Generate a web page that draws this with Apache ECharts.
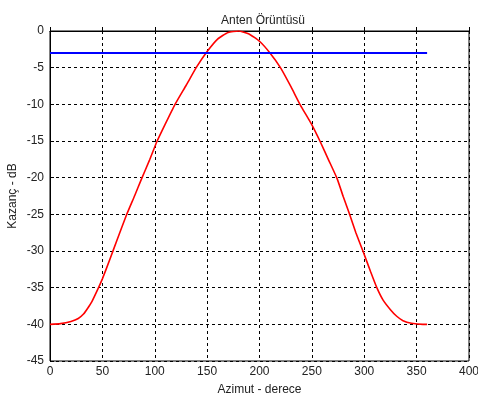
<!DOCTYPE html>
<html><head><meta charset="utf-8">
<script src="https://cdn.jsdelivr.net/npm/echarts@6/dist/echarts.min.js"></script>
<style>html,body{margin:0;padding:0;background:#fff}#c{width:478px;height:399px}</style>
</head><body><div id="c"></div>
<script>
var azimuth = [0,10,20,27,32,36,40,46,50,57,64,73,81,87,95,102,110,119,130,140,150,160,170,180,190,200,210,220,230,239,250,258,266,274,280,286,292,299,306,312,318,325,331,337,345,356,360];
var gain = [-40,-39.9,-39.6,-39.2,-38.6,-37.8,-36.9,-35.1,-33.8,-31.2,-28.5,-25.1,-22.4,-20.3,-17.6,-15.1,-12.7,-10.1,-7.4,-4.9,-2.8,-1.1,-0.2,0,-0.4,-1.4,-3.0,-5.0,-7.6,-10.1,-12.8,-15.1,-17.6,-20.1,-22.6,-25.0,-27.5,-30.1,-32.8,-35.0,-36.7,-38.0,-38.9,-39.5,-39.85,-40,-40];
var refX = [0, 360];
var refY = [-3, -3];
var titleText = 'Anten Örüntüsü';
var xName = 'Azimut - derece';
var yName = 'Kazanç - dB';

var chart = echarts.init(document.getElementById('c'));
var font = 'Liberation Sans, Arial, sans-serif';
chart.setOption({
  animation: false,
  backgroundColor: '#fff',
  title: {text: titleText, left: 258, top: 10, textAlign: 'center',
    textStyle: {fontFamily: font, fontSize: 12, fontWeight: 'normal', color: '#222'}},
  grid: {left: 50, right: 9, top: 31, bottom: 38, show: true, borderColor: '#000', borderWidth: 1,
    containLabel: false, outerBoundsMode: 'none'},
  xAxis: {type: 'value', min: 0, max: 400, interval: 50,
    name: xName, nameLocation: 'middle', nameGap: 23, nameMoveOverlap: false,
    nameTextStyle: {fontFamily: font, fontSize: 12, color: '#222'},
    axisLine: {show: true, lineStyle: {color: '#000'}},
    axisTick: {show: true, inside: true, length: 4, lineStyle: {color: '#000'}},
    axisLabel: {fontFamily: font, fontSize: 12, color: '#222', margin: 5},
    splitLine: {show: true, lineStyle: {color: '#000', type: [3, 3], width: 1}}},
  yAxis: {type: 'value', min: -45, max: 0, interval: 5,
    name: yName, nameLocation: 'middle', nameGap: 31, nameRotate: 90, nameMoveOverlap: false,
    nameTextStyle: {fontFamily: font, fontSize: 12, color: '#222'},
    axisLine: {show: true, lineStyle: {color: '#000'}},
    axisTick: {show: true, inside: true, length: 4, lineStyle: {color: '#000'}},
    axisLabel: {fontFamily: font, fontSize: 12, color: '#222', margin: 6},
    splitLine: {show: true, lineStyle: {color: '#000', type: [3, 3], width: 1}}},
  series: [
    {type: 'line', data: azimuth.map(function(a, i){return [a, gain[i]];}),
      showSymbol: false, smooth: 0.15, lineStyle: {color: '#ff0000', width: 1.6}},
    {type: 'line', data: refX.map(function(a, i){return [a, refY[i]];}),
      showSymbol: false, lineStyle: {color: '#0000ff', width: 2}}
  ]
});
</script>
</body></html>
